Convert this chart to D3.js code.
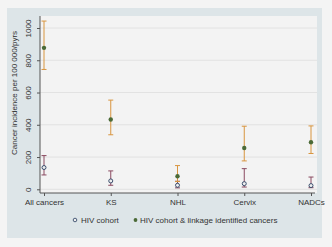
<!DOCTYPE html>
<html><head><meta charset="utf-8">
<script src="https://cdn.jsdelivr.net/npm/d3@7"></script>
<style>body{margin:0;background:#f4f4f4}svg{display:block}text{font-family:"Liberation Sans",Arial,sans-serif;fill:#333}</style>
</head><body><svg id="c" width="332" height="247"></svg>
<script>
const categories = ["All cancers","KS","NHL","Cervix","NADCs"];
const cohortEst = [135, 52, 25, 35, 23];
const cohortLo  = [89, 25, 9, 14, 10];
const cohortHi  = [209, 114, 50, 128, 76];
const linkEst = [877, 433, 81, 256, 292];
const linkLo  = [743, 338, 48, 176, 222];
const linkHi  = [1043, 553, 147, 391, 393];
const yTicks = [0,200,400,600,800,1000];
const legendLabels = ["HIV cohort","HIV cohort & linkage identified cancers"];

const svg = d3.select("#c");
svg.append("rect").attr("width",332).attr("height",247).attr("fill","#f4f4f4");
svg.append("rect").attr("x",7).attr("y",8).attr("width",315).attr("height",230).attr("fill","#dde5e8");
const pl=40, pr=317, pt=16, pb=193;
svg.append("rect").attr("x",pl).attr("y",pt).attr("width",pr-pl).attr("height",pb-pt).attr("fill","#f3f3f3");

const x = d3.scalePoint().domain(categories).range([44,311]);
const y = d3.scaleLinear().domain([0,1000]).range([189.3,28]);

// gridlines
svg.append("g").selectAll("line").data(yTicks).join("line")
  .attr("x1",pl).attr("x2",pr).attr("y1",d=>y(d)).attr("y2",d=>y(d))
  .attr("stroke","#e2e2e2").attr("stroke-width",1);

// y axis
const ya = svg.append("g").attr("transform",`translate(${pl},0)`)
  .call(d3.axisLeft(y).tickValues(yTicks).tickSize(3).tickPadding(2).tickFormat(d3.format("d")));
ya.select(".domain").attr("d",`M0,${pt}V${pb}`).attr("stroke","#555");
ya.selectAll(".tick line").attr("stroke","#555");
ya.selectAll(".tick text").attr("font-size",8).attr("fill","#333")
  .attr("transform","rotate(-90)").attr("text-anchor","middle").attr("x",0).attr("y",-9).attr("dy","0");

// x axis
const xa = svg.append("g").attr("transform",`translate(0,${pb})`)
  .call(d3.axisBottom(x).tickSize(3).tickPadding(3));
xa.select(".domain").attr("d",`M${pl},0H${pr-2}`).attr("stroke","#555");
xa.selectAll(".tick line").attr("stroke","#555");
xa.selectAll(".tick text").attr("font-size",8).attr("fill","#333");

// y title
svg.append("text").attr("transform","translate(17,93) rotate(-90)")
  .attr("text-anchor","middle").attr("font-size",8).text("Cancer incidence per 100 000/pyrs");

function ci(est, lo, hi, col){
  const g = svg.append("g");
  categories.forEach((c,i)=>{
    const cx = x(c);
    g.append("line").attr("x1",cx).attr("x2",cx).attr("y1",y(lo[i])).attr("y2",y(hi[i])).attr("stroke",col).attr("stroke-width",1);
    [lo[i],hi[i]].forEach(v=>g.append("line").attr("x1",cx-2.5).attr("x2",cx+2.5).attr("y1",y(v)).attr("y2",y(v)).attr("stroke",col).attr("stroke-width",1));
  });
}
ci(cohortEst, cohortLo, cohortHi, "#8a4a60");
ci(linkEst, linkLo, linkHi, "#d8953f");

svg.append("g").selectAll("circle").data(categories).join("circle")
  .attr("cx",d=>x(d)).attr("cy",(d,i)=>y(cohortEst[i])).attr("r",2)
  .attr("fill","#eee").attr("stroke","#3c4f6e").attr("stroke-width",1);
svg.append("g").selectAll("circle").data(categories).join("circle")
  .attr("cx",d=>x(d)).attr("cy",(d,i)=>y(linkEst[i])).attr("r",2.2)
  .attr("fill","#4b6a37");

// legend
const ly = 220;
svg.append("circle").attr("cx",75).attr("cy",ly).attr("r",1.8).attr("fill","#eee").attr("stroke","#3c4f6e").attr("stroke-width",0.9);
svg.append("text").attr("x",81).attr("y",ly+3).attr("font-size",8).text(legendLabels[0]);
svg.append("circle").attr("cx",135.5).attr("cy",ly).attr("r",1.9).attr("fill","#4b6a37");
svg.append("text").attr("x",140).attr("y",ly+3).attr("font-size",8).text(legendLabels[1]);
</script></body></html>
